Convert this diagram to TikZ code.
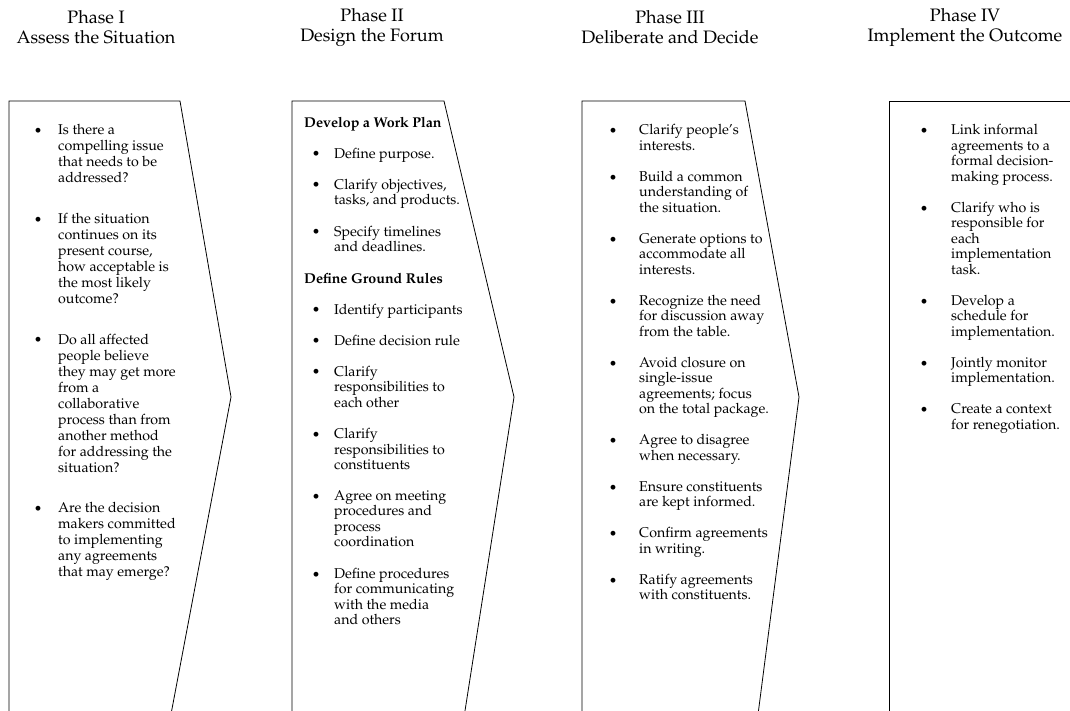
\documentclass[tikz,border=0pt]{standalone}
\usepackage[T1]{fontenc}
\usepackage{mathpazo}
\tikzset{
  phasetitle/.style={align=center, inner sep=0pt, font=\fontsize{18}{20}\selectfont},
  chevron/.style={draw=black, line width=0.8pt},
  item/.style={anchor=north west, align=left, inner sep=0pt, yshift=5.5pt,
    font=\fontsize{14.2}{15.5}\selectfont, execute at begin node={\rule{0pt}{11pt}}},
  wideitem/.style={item, font=\fontsize{14.2}{16}\selectfont},
  bul/.style={anchor=base, inner sep=0pt, yshift=-5.5pt, font=\fontsize{14}{15.5}\selectfont}
}
\begin{document}
\begin{tikzpicture}[x=1pt,y=-1pt]
        \useasboundingbox (0,0) rectangle (1070,710);
        \clip (0,0) rectangle (1070,710);
        %titles
        \node[phasetitle] (t1) at (96,27.5) {Phase I\\Assess the Situation};
        \node[phasetitle] (t2) at (372,27.5) {Phase II\\Design the Forum};
        \node[phasetitle] (t3) at (670,27.5) {Phase III\\Deliberate and Decide};
        \node[phasetitle] (t4) at (965,27.5) {Phase IV\\Implement the Outcome};
        %chevrons
        \draw[chevron] (9,730) -- (9,101) -- (180,101) -- (231,397) -- (168,730);
        \draw[chevron] (292,730) -- (292,101) -- (444,101) -- (514,397) -- (462,730);
        \draw[chevron] (582,730) -- (582,101) -- (745,101) -- (799,397) -- (756,730);
        \draw[chevron] (889,730) -- (889,101) -- (1080,101);
        %phase I
        \node[bul] (b1a) at (38,130) {\textbullet};
        \node[wideitem] (p1a) at (58,130) {Is there a\\compelling issue\\that needs to be\\addressed?};
        \node[bul] (b1b) at (38,218.7) {\textbullet};
        \node[wideitem] (p1b) at (58,218.7) {If the situation\\continues on its\\present course,\\how acceptable is\\the most likely\\outcome?};
        \node[bul] (b1c) at (38,339.4) {\textbullet};
        \node[wideitem] (p1c) at (58,339.4) {Do all affected\\people believe\\they may get more\\from a\\collaborative\\process than from\\another method\\for addressing the\\situation?};
        \node[bul] (b1d) at (38,508) {\textbullet};
        \node[wideitem] (p1d) at (58,508) {Are the decision\\makers committed\\to implementing\\any agreements\\that may emerge?};
        %phase II
        \node[item] (h2a) at (304,122) {\bfseries Develop a Work Plan};
        \node[bul] (b2a) at (316,153.2) {\textbullet};
        \node[item] (p2a) at (334,153.2) {Define purpose.};
        \node[bul] (b2b) at (316,184.4) {\textbullet};
        \node[item] (p2b) at (334,184.4) {Clarify objectives,\\tasks, and products.};
        \node[bul] (b2c) at (316,231.1) {\textbullet};
        \node[item] (p2c) at (334,231.1) {Specify timelines\\and deadlines.};
        \node[item] (h2b) at (304,277.8) {\bfseries Define Ground Rules};
        \node[bul] (b2d) at (316,309) {\textbullet};
        \node[item] (p2d) at (334,309) {Identify participants};
        \node[bul] (b2e) at (316,340.2) {\textbullet};
        \node[item] (p2e) at (334,340.2) {Define decision rule};
        \node[bul] (b2f) at (316,371.4) {\textbullet};
        \node[item] (p2f) at (334,371.4) {Clarify\\responsibilities to\\each other};
        \node[bul] (b2g) at (316,433.6) {\textbullet};
        \node[item] (p2g) at (334,433.6) {Clarify\\responsibilities to\\constituents};
        \node[bul] (b2h) at (316,495.8) {\textbullet};
        \node[item] (p2h) at (334,495.8) {Agree on meeting\\procedures and\\process\\coordination};
        \node[bul] (b2i) at (316,573.5) {\textbullet};
        \node[item] (p2i) at (334,573.5) {Define procedures\\for communicating\\with the media\\and others};
        %phase III
        \node[bul] (b3a) at (613,130) {\textbullet};
        \node[item] (p3a) at (639,130) {Clarify people's\\interests.};
        \node[bul] (b3b) at (613,176.5) {\textbullet};
        \node[item] (p3b) at (639,176.5) {Build a common\\understanding of\\the situation.};
        \node[bul] (b3c) at (613,238.5) {\textbullet};
        \node[item] (p3c) at (639,238.5) {Generate options to\\accommodate all\\interests.};
        \node[bul] (b3d) at (613,300.5) {\textbullet};
        \node[item] (p3d) at (639,300.5) {Recognize the need\\for discussion away\\from the table.};
        \node[bul] (b3e) at (613,362.5) {\textbullet};
        \node[item] (p3e) at (639,362.5) {Avoid closure on\\single-issue\\agreements; focus\\on the total package.};
        \node[bul] (b3f) at (613,440) {\textbullet};
        \node[item] (p3f) at (639,440) {Agree to disagree\\when necessary.};
        \node[bul] (b3g) at (613,486.5) {\textbullet};
        \node[item] (p3g) at (639,486.5) {Ensure constituents\\are kept informed.};
        \node[bul] (b3h) at (613,533) {\textbullet};
        \node[item] (p3h) at (639,533) {Confirm agreements\\in writing.};
        \node[bul] (b3i) at (613,579.5) {\textbullet};
        \node[item] (p3i) at (639,579.5) {Ratify agreements\\with constituents.};
        %phase IV
        \node[bul] (b4a) at (924,130) {\textbullet};
        \node[item] (p4a) at (951,130) {Link informal\\agreements to a\\formal decision-\\making process.};
        \node[bul] (b4b) at (924,207.5) {\textbullet};
        \node[item] (p4b) at (951,207.5) {Clarify who is\\responsible for\\each\\implementation\\task.};
        \node[bul] (b4c) at (924,300.5) {\textbullet};
        \node[item] (p4c) at (951,300.5) {Develop a\\schedule for\\implementation.};
        \node[bul] (b4d) at (924,362.5) {\textbullet};
        \node[item] (p4d) at (951,362.5) {Jointly monitor\\implementation.};
        \node[bul] (b4e) at (924,409) {\textbullet};
        \node[item] (p4e) at (951,409) {Create a context\\for renegotiation.};
\end{tikzpicture}
\end{document}
